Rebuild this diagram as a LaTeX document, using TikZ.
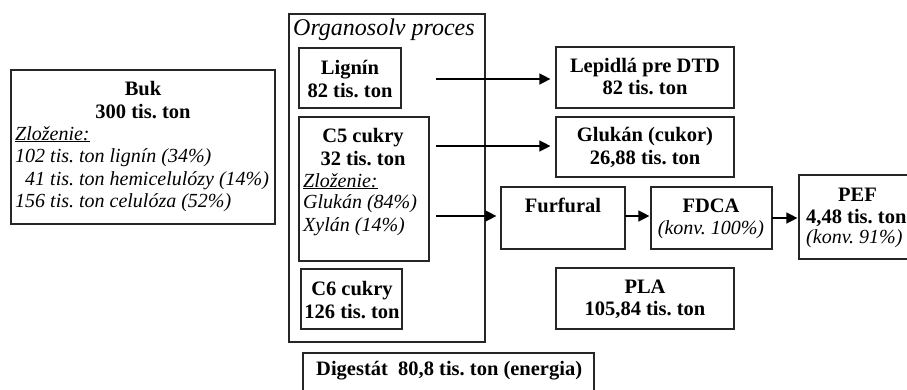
\documentclass[tikz,border=0pt]{standalone}
\usepackage{fontspec}
\setmainfont{Liberation Serif}
\usetikzlibrary{arrows.meta}
\frenchspacing

\tikzset{
  box/.style={draw=black!85, line width=1.2pt, fill=none, inner sep=0pt, shape=rectangle},
  bt/.style={font=\fontsize{20.5}{24}\selectfont\bfseries, inner sep=0pt, anchor=base},
  btl/.style={font=\fontsize{20.5}{24}\selectfont\bfseries, inner sep=0pt, anchor=base west},
  it/.style={font=\fontsize{20}{24}\selectfont\itshape, inner sep=0pt, anchor=base west},
  itc/.style={font=\fontsize{20}{24}\selectfont\itshape, inner sep=0pt, anchor=base},
  flow/.style={line width=1.4pt, -{Triangle[length=11pt,width=11pt]}},
}

\begin{document}
\begin{tikzpicture}[x=1pt, y=-1pt]
  \useasboundingbox[fill=white] (0,0) rectangle (907,389);

  % raw material
  \node[box, minimum width=264pt, minimum height=154pt] (buk) at (143,147) {};
  \node[bt] (bukA) at (143,95) {Buk};
  \node[bt] (bukB) at (143,118) {300 tis. ton};
  \node[it] (bukC) at (15,140) {\underline{Zloženie:}};
  \node[it] (bukD) at (15,162) {102 tis. ton lignín (34\%)};
  \node[it] (bukE) at (25,185) {41 tis. ton hemicelulózy (14\%)};
  \node[it] (bukF) at (15,207) {156 tis. ton celulóza (52\%)};

  % organosolv process frame
  \node[box, minimum width=196pt, minimum height=328pt] (org) at (387,178) {};
  \node[font=\fontsize{24}{28}\selectfont\itshape, inner sep=0pt, anchor=base west] (orgT) at (293,35) {Organosolv proces};

  \node[box, minimum width=102pt, minimum height=60pt] (lig) at (350,78) {};
  \node[bt] (ligA) at (350,74) {Lignín};
  \node[bt] (ligB) at (350,97) {82 tis. ton};

  \node[box, minimum width=130pt, minimum height=144pt] (c5) at (364,189) {};
  \node[bt] (c5A) at (363,142) {C5 cukry};
  \node[bt] (c5B) at (363,165) {32 tis. ton};
  \node[it] (c5C) at (303,187) {\underline{Zloženie:}};
  \node[it] (c5D) at (303,208) {Glukán (84\%)};
  \node[it] (c5E) at (303,231) {Xylán (14\%)};

  \node[box, minimum width=101pt, minimum height=60pt] (c6) at (351.5,299) {};
  \node[bt] (c6A) at (352,295) {C6 cukry};
  \node[bt] (c6B) at (352,318) {126 tis. ton};

  \node[box, minimum width=291pt, minimum height=42pt] (dig) at (448.5,374) {};
  \node[btl] (digA) at (316,375) {Digestát\ \ 80,8 tis. ton (energia)};

  % products
  \node[box, minimum width=178pt, minimum height=61pt] (lep) at (645,77.5) {};
  \node[bt] (lepA) at (645,72) {Lepidlá pre DTD};
  \node[bt] (lepB) at (645,94) {82 tis. ton};

  \node[box, minimum width=178pt, minimum height=60pt] (glu) at (645,147) {};
  \node[bt] (gluA) at (645,141) {Glukán (cukor)};
  \node[bt] (gluB) at (645,164) {26,88 tis. ton};

  \node[box, minimum width=124pt, minimum height=62pt] (fur) at (563,218) {};
  \node[bt] (furA) at (563,212) {Furfural};

  \node[box, minimum width=121pt, minimum height=62pt] (fdca) at (711.5,218) {};
  \node[bt] (fdcaA) at (711,212) {FDCA};
  \node[itc] (fdcaB) at (711,234) {(konv. 100\%)};

  \node[box, minimum width=116pt, minimum height=84pt] (pef) at (857,217) {};
  \node[bt] (pefA) at (857.5,201) {PEF};
  \node[btl] (pefB) at (806,223) {4,48 tis. ton};
  \node[it] (pefC) at (806,243) {(konv. 91\%)};

  \node[box, minimum width=178pt, minimum height=61pt] (pla) at (645,298.5) {};
  \node[bt] (plaA) at (645,293) {PLA};
  \node[bt] (plaB) at (645,315) {105,84 tis. ton};

  % flows
  \coordinate (s1) at (436,79);
  \coordinate (s2) at (436,146);
  \coordinate (s3) at (436,216);
  \draw[flow, shorten >=5pt] (s1) -- (s1 -| lep.west);
  \draw[flow, shorten >=5pt] (s2) -- (s2 -| glu.west);
  \draw[flow, shorten >=4pt] (s3) -- (s3 -| fur.west);
  \coordinate (f1) at (625,216);
  \draw[flow, shorten >=1pt] (f1) -- (f1 -| fdca.west);
  \coordinate (f2) at (772,218);
  \draw[flow, shorten >=1pt] (f2) -- (f2 -| pef.west);
\end{tikzpicture}
\end{document}
